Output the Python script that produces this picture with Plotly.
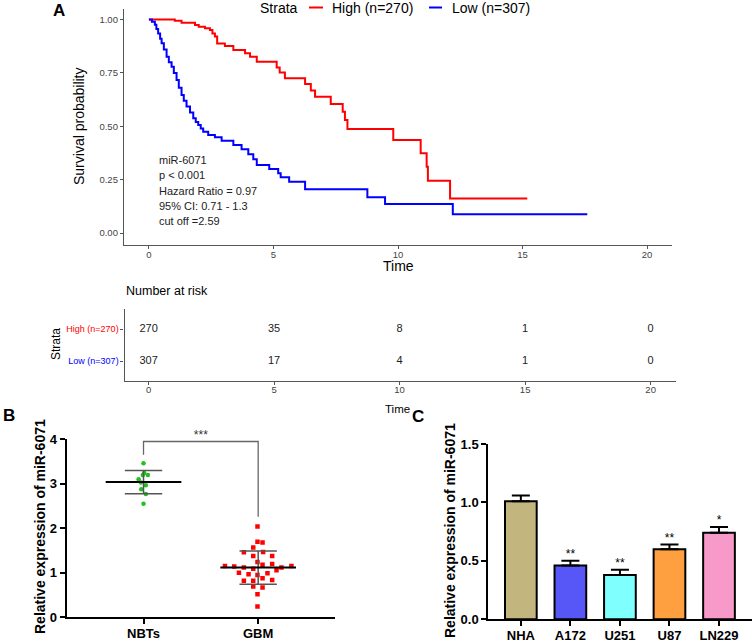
import numpy as np
import plotly.graph_objects as go

W, H = 753, 642
FONT = "Liberation Sans, Arial, sans-serif"


def px(x):
    return x / W


def py(y):
    return 1 - y / H


# ---------------- Panel A: Kaplan-Meier data ----------------
high_time = [0, 1.04, 1.31, 1.85, 2.0, 2.25, 2.45, 2.55, 2.65, 2.74, 3.05, 3.39, 3.86,
             4.06, 4.33, 5.13, 5.25, 5.46, 6.27, 6.5, 6.67, 7.3, 7.78, 7.87, 7.97, 9.81,
             10.91, 11.15, 11.2, 12.09, 15.19]
high_surv = [1.0, 0.994, 0.985, 0.974, 0.966, 0.959, 0.951, 0.935, 0.92, 0.888, 0.876,
             0.857, 0.842, 0.826, 0.802, 0.775, 0.752, 0.725, 0.698, 0.667, 0.638, 0.604,
             0.568, 0.529, 0.487, 0.436, 0.373, 0.31, 0.245, 0.162, 0.162]

low_time = [0, 0.12, 0.24, 0.3, 0.37, 0.45, 0.51, 0.6, 0.71, 0.8, 0.91, 1.0, 1.11, 1.2,
            1.31, 1.4, 1.51, 1.65, 1.78, 1.88, 1.98, 2.08, 2.18, 2.38, 2.65, 2.92, 3.39,
            3.72, 3.99, 4.19, 4.33, 4.83, 5.19, 5.29, 5.63, 6.27, 8.77, 9.48, 12.2, 17.6]
low_surv = [1.0, 0.99, 0.975, 0.955, 0.935, 0.91, 0.889, 0.86, 0.826, 0.80, 0.779, 0.75,
            0.717, 0.68, 0.646, 0.62, 0.592, 0.565, 0.537, 0.52, 0.506, 0.49, 0.474, 0.459,
            0.448, 0.432, 0.412, 0.392, 0.369, 0.345, 0.318, 0.30, 0.28, 0.261, 0.24, 0.205,
            0.167, 0.136, 0.088, 0.088]

strata_names = ["High (n=270)", "Low (n=307)"]
strata_colors = ["#FF0000", "#0000FF"]

risk_times = [0, 5, 10, 15, 20]
high_risk = [270, 35, 8, 1, 0]
low_risk = [307, 17, 4, 1, 0]

stats_lines = ["miR-6071", "p < 0.001", "Hazard Ratio = 0.97", "95% CI: 0.71 - 1.3",
               "cut off =2.59"]

# ---------------- Panel B: scatter data ----------------
b_groups = ["NBTs", "GBM"]
nbt_values = [3.46, 3.24, 3.20, 3.20, 3.10, 3.03, 2.97, 2.88, 2.77, 2.55]
nbt_jitter = [0, 0.006, -0.006, 0.038, -0.043, -0.023, 0.02, -0.02, 0.02, 0]
gbm_values = [2.04, 1.70, 1.68, 1.57, 1.46, 1.47, 1.38, 1.38, 1.24, 1.18, 1.20, 1.15,
              1.14, 1.12, 1.09, 1.12, 1.15, 1.06, 1.00, 0.97, 0.95, 0.99, 0.88, 0.82,
              0.82, 0.84, 0.69, 0.67, 0.52, 0.24]
gbm_jitter = [-0.006, -0.006, 0.038, -0.043, -0.125, 0.043, -0.043, 0.122, -0.006, 0.038,
              0.122, -0.29, -0.209, -0.125, -0.043, 0.203, 0.29, 0.16, -0.168, -0.084,
              -0.006, 0.081, 0.038, -0.125, -0.043, 0.122, -0.043, 0.038, -0.006, -0.006]
b_sig = "***"

# ---------------- Panel C: bar data ----------------
c_cells = ["NHA", "A172", "U251", "U87", "LN229"]
c_values = [1.01, 0.46, 0.38, 0.60, 0.74]
c_errors = [0.05, 0.04, 0.045, 0.04, 0.05]
c_sig = ["", "**", "**", "**", "*"]
c_colors = ["#C2B57D", "#5757F7", "#80FFFF", "#FFA040", "#F799C9"]

fig = go.Figure()

# ---- KM curves
fig.add_trace(go.Scatter(x=high_time, y=high_surv, mode="lines", line_shape="hv",
                         line=dict(color=strata_colors[0], width=2), name=strata_names[0],
                         showlegend=False, xaxis="x", yaxis="y"))
fig.add_trace(go.Scatter(x=low_time, y=low_surv, mode="lines", line_shape="hv",
                         line=dict(color=strata_colors[1], width=2), name=strata_names[1],
                         showlegend=False, xaxis="x", yaxis="y"))

# ---- Risk table
for row, counts in ((1, high_risk), (2, low_risk)):
    fig.add_trace(go.Scatter(x=risk_times, y=[row] * len(risk_times), mode="text",
                             text=[str(c) for c in counts],
                             textfont=dict(family=FONT, size=11, color="#222"),
                             showlegend=False, hoverinfo="skip", xaxis="x2", yaxis="y2"))

# ---- Panel B
nbt_x = [0 + j for j in nbt_jitter]
gbm_x = [1 + j for j in gbm_jitter]
fig.add_trace(go.Scatter(x=nbt_x, y=nbt_values, mode="markers",
                         marker=dict(color="#22C022", size=4.5, symbol="circle"),
                         showlegend=False, xaxis="x3", yaxis="y3"))
fig.add_trace(go.Scatter(x=gbm_x, y=gbm_values, mode="markers",
                         marker=dict(color="#FF0000", size=4.5, symbol="square"),
                         showlegend=False, xaxis="x3", yaxis="y3"))
for i, vals in enumerate((nbt_values, gbm_values)):
    m = float(np.mean(vals))
    s = float(np.std(vals, ddof=1))
    fig.add_trace(go.Scatter(x=[i, i], y=[m - s, m + s], mode="lines",
                             line=dict(color="#555", width=1.5), showlegend=False,
                             hoverinfo="skip", xaxis="x3", yaxis="y3"))
    for v in (m - s, m + s):
        fig.add_trace(go.Scatter(x=[i - 0.163, i + 0.163], y=[v, v], mode="lines",
                                 line=dict(color="#555", width=1.5), showlegend=False,
                                 hoverinfo="skip", xaxis="x3", yaxis="y3"))
    fig.add_trace(go.Scatter(x=[i - 0.33, i + 0.33], y=[m, m], mode="lines",
                             line=dict(color="#000", width=2), showlegend=False,
                             hoverinfo="skip", xaxis="x3", yaxis="y3"))

fig.add_trace(go.Scatter(x=[0, 0, 1, 1], y=[3.65, 3.95, 3.95, 2.26], mode="lines",
                         line=dict(color="#666", width=1.3), showlegend=False,
                         hoverinfo="skip", xaxis="x3", yaxis="y3", cliponaxis=False))
fig.add_trace(go.Scatter(x=[0.5], y=[3.95], mode="text", text=[b_sig],
                         textposition="top center",
                         textfont=dict(family=FONT, size=12, color="#333"),
                         showlegend=False, hoverinfo="skip", xaxis="x3", yaxis="y3",
                         cliponaxis=False))

# ---- Panel C
c_x = list(range(len(c_cells)))
fig.add_trace(go.Bar(x=c_x, y=c_values, width=0.64,
                     marker=dict(color=c_colors, line=dict(color="#000", width=2)),
                     error_y=dict(type="data", array=c_errors, arrayminus=[0] * len(c_errors),
                                  symmetric=False, color="#000", thickness=2, width=9),
                     showlegend=False, xaxis="x4", yaxis="y4"))
fig.add_trace(go.Scatter(x=c_x, y=[v + e for v, e in zip(c_values, c_errors)], mode="text",
                         text=c_sig, textposition="top center",
                         textfont=dict(family=FONT, size=12, color="#000"),
                         showlegend=False, hoverinfo="skip", xaxis="x4", yaxis="y4",
                         cliponaxis=False))

axA = dict(showgrid=False, zeroline=False, showline=True, linecolor="#555", linewidth=1.3,
           ticks="outside", ticklen=3, tickcolor="#555", tickwidth=1,
           tickfont=dict(family=FONT, size=9.5, color="#444"))
axBC = dict(showgrid=False, zeroline=False, showline=True, linecolor="#000", linewidth=2,
            ticks="outside", ticklen=5, tickcolor="#000", tickwidth=2,
            tickfont=dict(family=FONT, size=13, color="#000", weight="bold"))

fig.update_layout(
    width=W, height=H, margin=dict(l=0, r=0, t=0, b=0, autoexpand=False),
    paper_bgcolor="white", plot_bgcolor="white",
    font=dict(family=FONT),
    xaxis=dict(axA, domain=[px(124), px(672)], range=[-1.0, 21.0],
               tickvals=risk_times, anchor="y", ticklabelstandoff=-3),
    yaxis=dict(axA, domain=[py(245), py(9)], range=[-0.0562, 1.0492],
               tickvals=[0, 0.25, 0.5, 0.75, 1.0], tickformat=".2f", anchor="x"),
    xaxis2=dict(axA, domain=[px(124.6), px(676)], range=[-0.956, 21.01],
                tickvals=risk_times, anchor="y2", ticklabelstandoff=-4),
    yaxis2=dict(axA, domain=[py(381), py(309)], range=[2.625, 0.375], tickvals=[1, 2],
                ticktext=[f'<span style="color:{c}">{n}</span>'
                          for n, c in zip(strata_names, strata_colors)],
                tickfont=dict(family=FONT, size=9, color="#444"), anchor="x2"),
    xaxis3=dict(axBC, domain=[px(66.7), px(335)], range=[-0.67, 1.67], tickvals=[0, 1],
                ticktext=b_groups, anchor="y3", ticklabelstandoff=-2),
    yaxis3=dict(axBC, domain=[py(617.3), py(439.3)], range=[0, 4], tickvals=[0, 1, 2, 3, 4],
                anchor="x3"),
    xaxis4=dict(axBC, domain=[px(488.3), px(751.7)], range=[-0.657, 4.66], tickvals=c_x,
                ticktext=c_cells, anchor="y4", ticklabelstandoff=-2),
    yaxis4=dict(axBC, domain=[py(619.3), py(444)], range=[0, 1.5],
                tickvals=[0, 0.5, 1.0, 1.5], tickformat=".1f", anchor="x4"),
)

ann = []


def add_text(text, x, y, size, color="#000", bold=False, xanchor="center", angle=0,
             yanchor="middle"):
    ann.append(dict(text=f"<b>{text}</b>" if bold else text, x=px(x), y=py(y),
                    xref="paper", yref="paper", showarrow=False, xanchor=xanchor,
                    yanchor=yanchor, textangle=angle,
                    font=dict(family=FONT, size=size, color=color)))


add_text("A", 59, 11, 17, bold=True)
add_text("B", 9, 415, 17, bold=True)
add_text("C", 418, 416, 17, bold=True)

add_text("Survival probability", 79, 126, 14, angle=-90)
add_text("Time", 398, 266, 14)
for i, line in enumerate(stats_lines):
    add_text(line, 157, 160 + 15.3 * i, 11, color="#222", xanchor="left")

add_text("Strata", 279, 7.5, 14)
add_text(strata_names[0], 330, 7.5, 14, xanchor="left")
add_text(strata_names[1], 450, 7.5, 14, xanchor="left")

add_text("Number at risk", 124, 291, 12.5, xanchor="left")
add_text("Strata", 56, 344, 12, angle=-90)
add_text("Time", 397, 409, 11.5)

add_text("Relative expression of miR-6071", 40, 527, 14, bold=True, angle=-90)
add_text("Relative expression of miR-6071", 450, 531, 14, bold=True, angle=-90)

fig.update_layout(annotations=ann)

shapes = [
    dict(type="line", xref="paper", yref="paper", x0=px(309), x1=px(323), y0=py(7.5),
         y1=py(7.5), line=dict(color=strata_colors[0], width=2)),
    dict(type="line", xref="paper", yref="paper", x0=px(429), x1=px(442), y0=py(7.5),
         y1=py(7.5), line=dict(color=strata_colors[1], width=2)),
]
fig.update_layout(shapes=shapes)

fig.write_html(
    "out.html",
    config={"displayModeBar": False},
    post_script="document.body.style.margin='0';document.body.style.padding='0';"
                "document.body.style.overflow='hidden';",
)
